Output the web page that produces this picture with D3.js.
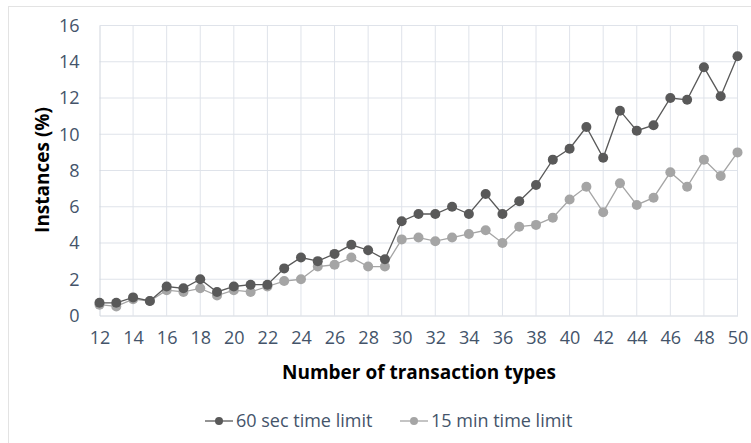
<!DOCTYPE html>
<html>
<head>
<meta charset="utf-8">
<script src="https://cdn.jsdelivr.net/npm/d3@7"></script>
<style>
  body { margin: 0; background: #fff; }
  text { font-family: "Open Sans", "Noto Sans", sans-serif; }
</style>
</head>
<body>
<div id="chart"></div>
<script>
// number of transaction types
var types = d3.range(12, 51);
var sec60 = [0.7, 0.7, 1.0, 0.8, 1.6, 1.5, 2.0, 1.3, 1.6, 1.7, 1.7, 2.6, 3.2, 3.0, 3.4, 3.9, 3.6, 3.1,
             5.2, 5.6, 5.6, 6.0, 5.6, 6.7, 5.6, 6.3, 7.2, 8.6, 9.2, 10.4, 8.7, 11.3, 10.2, 10.5, 12.0, 11.9, 13.7, 12.1, 14.3];
var min15 = [0.6, 0.5, 0.9, 0.8, 1.4, 1.3, 1.5, 1.1, 1.4, 1.3, 1.6, 1.9, 2.0, 2.7, 2.8, 3.2, 2.7, 2.7,
             4.2, 4.3, 4.1, 4.3, 4.5, 4.7, 4.0, 4.9, 5.0, 5.4, 6.4, 7.1, 5.7, 7.3, 6.1, 6.5, 7.9, 7.1, 8.6, 7.7, 9.0];
var xTicks = d3.range(12, 51, 2);
var yTicks = [0, 2, 4, 6, 8, 10, 12, 14, 16];
var seriesNames = ["60 sec time limit", "15 min time limit"];
var seriesColors = ["#595959", "#a5a5a5"];

var width = 751, height = 443;
var svg = d3.select("#chart").append("svg")
    .attr("width", width)
    .attr("height", height);

// chart frame
svg.append("rect")
    .attr("x", 8.5).attr("y", 6.5)
    .attr("width", 760).attr("height", 460)
    .attr("fill", "none")
    .attr("stroke", "#e3e3e3");

var x = d3.scaleLinear().domain([12, 50]).range([99.5, 737.5]);
var y = d3.scaleLinear().domain([0, 16]).range([315.5, 25.5]);
var labelColor = "#44546a";
var gridColor = "#dfe3ea";

// grid
svg.append("g").selectAll("line.h")
    .data(yTicks.slice(1))
    .enter().append("line")
    .attr("x1", x(12)).attr("x2", x(50))
    .attr("y1", function(d) { return y(d); })
    .attr("y2", function(d) { return y(d); })
    .attr("stroke", gridColor);
svg.append("g").selectAll("line.v")
    .data(xTicks.slice(1))
    .enter().append("line")
    .attr("x1", function(d) { return x(d); })
    .attr("x2", function(d) { return x(d); })
    .attr("y1", y(0)).attr("y2", y(16))
    .attr("stroke", gridColor);

// axes
var xAxis = svg.append("g")
    .attr("transform", "translate(0," + y(0) + ")")
    .call(d3.axisBottom(x).tickValues(xTicks).tickSize(0).tickPadding(16));
var yAxis = svg.append("g")
    .attr("transform", "translate(" + x(12) + ",0)")
    .call(d3.axisLeft(y).tickValues(yTicks).tickSize(0).tickPadding(20));
[xAxis, yAxis].forEach(function(a) {
    a.select(".domain").attr("stroke", "#d0d5dd");
    a.selectAll("text")
        .attr("fill", labelColor)
        .style("font-size", "18px")
        .style("font-family", "'Open Sans', sans-serif");
});

// axis titles
svg.append("text")
    .attr("x", 419).attr("y", 379)
    .attr("text-anchor", "middle")
    .style("font-size", "19px")
    .style("font-weight", "bold")
    .attr("fill", "#000")
    .text("Number of transaction types");
svg.append("text")
    .attr("transform", "translate(49,170) rotate(-90)")
    .attr("text-anchor", "middle")
    .style("font-size", "19px")
    .style("font-weight", "bold")
    .attr("fill", "#000")
    .text("Instances (%)");

// series
var series = [sec60, min15];
var line = d3.line()
    .x(function(d, i) { return x(types[i]); })
    .y(function(d) { return y(d); });

// draw light series first so dark sits on top
[1, 0].forEach(function(k) {
    var g = svg.append("g");
    g.append("path")
        .datum(series[k])
        .attr("d", line)
        .attr("fill", "none")
        .attr("stroke", seriesColors[k])
        .attr("stroke-width", 1.3);
    g.selectAll("circle")
        .data(series[k])
        .enter().append("circle")
        .attr("cx", function(d, i) { return x(types[i]); })
        .attr("cy", function(d) { return y(d); })
        .attr("r", 5)
        .attr("fill", seriesColors[k]);
});

// legend
var legendX = [205, 400];
var legend = svg.append("g").selectAll("g")
    .data(seriesNames)
    .enter().append("g")
    .attr("transform", function(d, i) { return "translate(" + legendX[i] + ",421)"; });
legend.append("line")
    .attr("x1", 0).attr("x2", 28)
    .attr("stroke", function(d, i) { return seriesColors[i]; })
    .attr("stroke-width", 1.3);
legend.append("circle")
    .attr("cx", 14).attr("r", 4)
    .attr("fill", function(d, i) { return seriesColors[i]; });
legend.append("text")
    .attr("x", 31).attr("y", 6)
    .attr("fill", labelColor)
    .style("font-size", "18px")
    .text(function(d) { return d; });
</script>
</body>
</html>
